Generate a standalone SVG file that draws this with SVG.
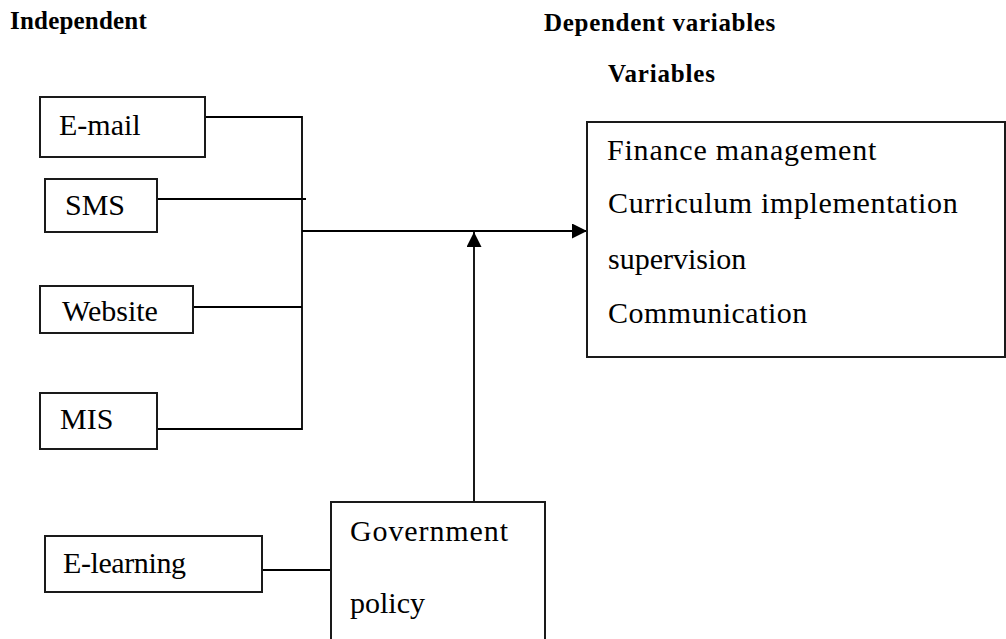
<svg xmlns="http://www.w3.org/2000/svg" width="1006" height="639" viewBox="0 0 1006 639">
<style>
.box{fill:#fff;stroke:#1a1a1a;stroke-width:2}
.ln{fill:none;stroke:#000;stroke-width:1.8}
.t{font-family:"Liberation Serif","Times New Roman",serif;font-size:30px;fill:#000}
.h{font-family:"Liberation Serif","Times New Roman",serif;font-size:25px;font-weight:bold;fill:#000}
</style>
<defs>
<marker id="arr" viewBox="0 0 10 10" refX="10" refY="5" markerWidth="15" markerHeight="15" markerUnits="userSpaceOnUse" orient="auto">
<path d="M0,0 L10,5 L0,10 Z" fill="#000"/>
</marker>
</defs>
<rect width="1006" height="639" fill="#fff"/>
<g id="headings">
<text class="h" x="10" y="29" letter-spacing="0.2">Independent</text>
<text class="h" x="544" y="31" letter-spacing="0.7">Dependent variables</text>
<text class="h" x="608" y="82" letter-spacing="0.8">Variables</text>
</g>
<g id="connectors">
<polyline class="ln" points="205,117 302,117 302,429 157,429"/>
<line class="ln" x1="157" y1="199" x2="306" y2="199"/>
<line class="ln" x1="193" y1="307" x2="302" y2="307"/>
<line class="ln" x1="302" y1="231" x2="587" y2="231" marker-end="url(#arr)"/>
<line class="ln" x1="474" y1="502" x2="474" y2="232" marker-end="url(#arr)"/>
<line class="ln" x1="262" y1="570" x2="331" y2="570"/>
</g>
<g id="email">
<rect class="box" x="40" y="97" width="165" height="60"/>
<text class="t" x="59" y="135">E-mail</text>
</g>
<g id="sms">
<rect class="box" x="45" y="179" width="112" height="53"/>
<text class="t" x="65" y="215">SMS</text>
</g>
<g id="website">
<rect class="box" x="40" y="286" width="153" height="47"/>
<text class="t" x="62" y="321">Website</text>
</g>
<g id="mis">
<rect class="box" x="40" y="393" width="117" height="56"/>
<text class="t" x="60" y="429">MIS</text>
</g>
<g id="elearning">
<rect class="box" x="45" y="536" width="217" height="56"/>
<text class="t" x="63" y="573" letter-spacing="-0.4">E-learning</text>
</g>
<g id="government">
<rect class="box" x="331" y="502" width="214" height="150"/>
<text class="t" x="350" y="541" letter-spacing="0.9">Government</text>
<text class="t" x="350" y="613">policy</text>
</g>
<g id="dependent">
<rect class="box" x="587" y="122" width="418" height="235"/>
<text class="t" x="607" y="160" letter-spacing="0.8">Finance management</text>
<text class="t" x="608" y="213" letter-spacing="0.65">Curriculum implementation</text>
<text class="t" x="608" y="269">supervision</text>
<text class="t" x="608" y="323" letter-spacing="0.5">Communication</text>
</g>
</svg>
